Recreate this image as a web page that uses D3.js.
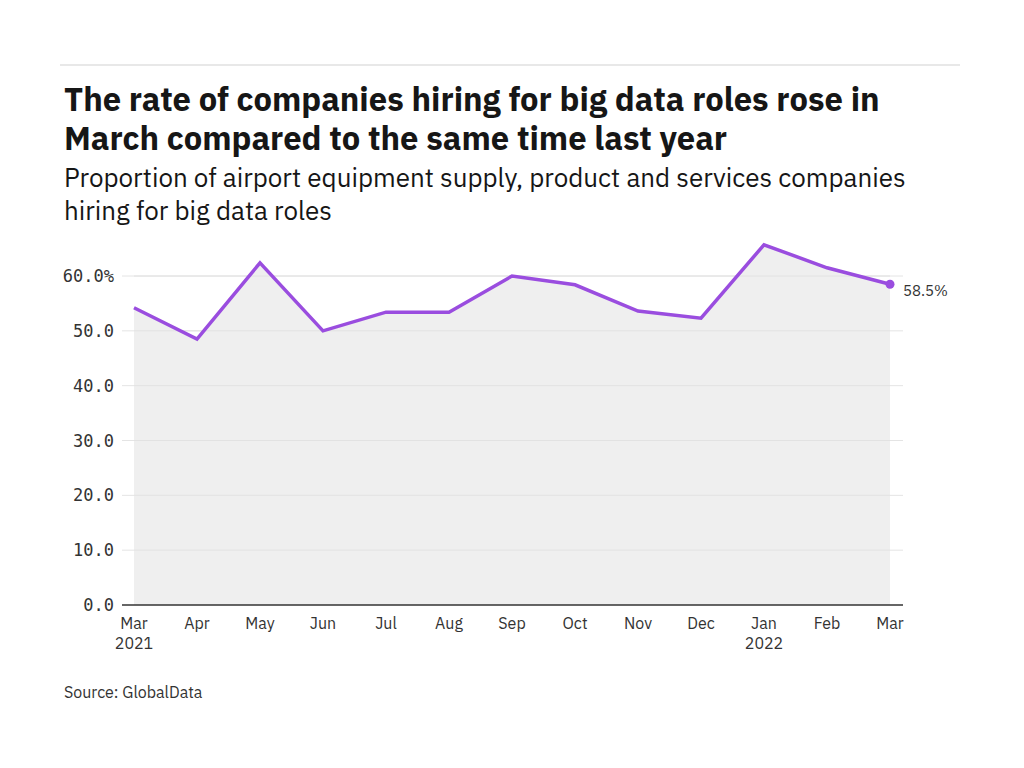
<!DOCTYPE html>
<html lang="en">
<head>
  <meta charset="UTF-8">
  <title>Big data hiring</title>
  <style>
    body { margin: 0; padding: 0; background: #fff; }
    svg { display: block; }
    .ylab { font-family: 'DejaVu Sans Mono', monospace; font-size: 17px; }
  </style>
</head>
<body>
<script src="https://d3js.org/d3.v7.min.js"></script>
<script>
  // Data
  const months = ['Mar', 'Apr', 'May', 'Jun', 'Jul', 'Aug', 'Sep', 'Oct', 'Nov', 'Dec', 'Jan', 'Feb', 'Mar'];
  const years = ['2021', '', '', '', '', '', '', '', '', '', '2022', '', ''];
  const values = [54.2, 48.5, 62.4, 50.0, 53.4, 53.4, 60.0, 58.4, 53.6, 52.3, 65.7, 61.5, 58.5];
  const yTicks = [0, 10, 20, 30, 40, 50, 60];

  const sans = "'IBM Plex Sans', 'Roboto', 'Noto Sans', sans-serif";

  const svg = d3.select('body').append('svg')
    .attr('width', 1024)
    .attr('height', 768);

  // Top rule
  svg.append('line')
    .attr('x1', 60).attr('x2', 960)
    .attr('y1', 65).attr('y2', 65)
    .attr('stroke', '#e0e0e0').attr('stroke-width', 1.5);

  // Titles
  const title = ['The rate of companies hiring for big data roles rose in',
                 'March compared to the same time last year'];
  title.forEach((t, i) => {
    svg.append('text')
      .attr('x', 64).attr('y', 111 + i * 39)
      .style('font-family', sans).style('font-weight', 700)
      .style('font-size', '32.8px').attr('fill', '#161616')
      .text(t);
  });

  const subtitle = ['Proportion of airport equipment supply, product and services companies',
                    'hiring for big data roles'];
  subtitle.forEach((t, i) => {
    svg.append('text')
      .attr('x', 64).attr('y', 187 + i * 33)
      .style('font-family', sans)
      .style('font-size', '26px').attr('fill', '#161616')
      .text(t);
  });

  // Scales
  const x = d3.scaleLinear().domain([0, months.length - 1]).range([134, 890]);
  const y = d3.scaleLinear().domain([0, 60]).range([605, 276]);

  // Grid lines
  svg.append('g')
    .selectAll('line')
    .data(yTicks.filter(d => d > 0))
    .enter().append('line')
    .attr('x1', 122).attr('x2', 903)
    .attr('y1', d => y(d)).attr('y2', d => y(d))
    .attr('stroke', '#e4e4e4').attr('stroke-width', 1);

  // Area
  svg.append('path')
    .datum(values)
    .attr('fill', '#efefef')
    .attr('d', d3.area()
      .x((d, i) => x(i))
      .y0(y(0))
      .y1(d => y(d)));

  // Grid lines again over the area
  svg.append('g')
    .selectAll('line')
    .data(yTicks.filter(d => d > 0))
    .enter().append('line')
    .attr('x1', 134).attr('x2', 890)
    .attr('y1', d => y(d)).attr('y2', d => y(d))
    .attr('stroke', '#e2e2e2').attr('stroke-width', 1);

  // Y axis labels
  svg.append('g')
    .selectAll('text')
    .data(yTicks)
    .enter().append('text')
    .attr('class', 'ylab')
    .attr('x', 114)
    .attr('y', d => y(d) + 6)
    .attr('text-anchor', 'end')
    .attr('fill', '#333')
    .text(d => d === 60 ? d.toFixed(1) + '%' : d.toFixed(1));

  // Baseline
  svg.append('line')
    .attr('x1', 122).attr('x2', 903)
    .attr('y1', y(0)).attr('y2', y(0))
    .attr('stroke', '#333').attr('stroke-width', 1.5);

  // X labels
  const xl = svg.append('g');
  xl.selectAll('text.m')
    .data(months)
    .enter().append('text')
    .attr('class', 'm')
    .attr('x', (d, i) => x(i))
    .attr('y', 629)
    .attr('text-anchor', 'middle')
    .style('font-family', sans).style('font-size', '16px')
    .attr('fill', '#333')
    .text(d => d);
  xl.selectAll('text.y')
    .data(years)
    .enter().append('text')
    .attr('class', 'y')
    .attr('x', (d, i) => x(i))
    .attr('y', 649)
    .attr('text-anchor', 'middle')
    .style('font-family', sans).style('font-size', '16px')
    .attr('fill', '#333')
    .text(d => d);

  // Line
  svg.append('path')
    .datum(values)
    .attr('fill', 'none')
    .attr('stroke', '#9a4ddf')
    .attr('stroke-width', 3.5)
    .attr('stroke-linejoin', 'miter')
    .attr('d', d3.line()
      .x((d, i) => x(i))
      .y(d => y(d)));

  // End point and label
  const last = values.length - 1;
  svg.append('circle')
    .attr('cx', x(last)).attr('cy', y(values[last]))
    .attr('r', 4.5).attr('fill', '#9a4ddf');
  svg.append('text')
    .attr('x', x(last) + 13).attr('y', y(values[last]) + 12)
    .style('font-family', sans).style('font-size', '15px')
    .attr('fill', '#333')
    .text(values[last].toFixed(1) + '%');

  // Source
  svg.append('text')
    .attr('x', 64).attr('y', 698)
    .style('font-family', sans).style('font-size', '16px')
    .attr('fill', '#333')
    .text('Source: GlobalData');
</script>
</body>
</html>
